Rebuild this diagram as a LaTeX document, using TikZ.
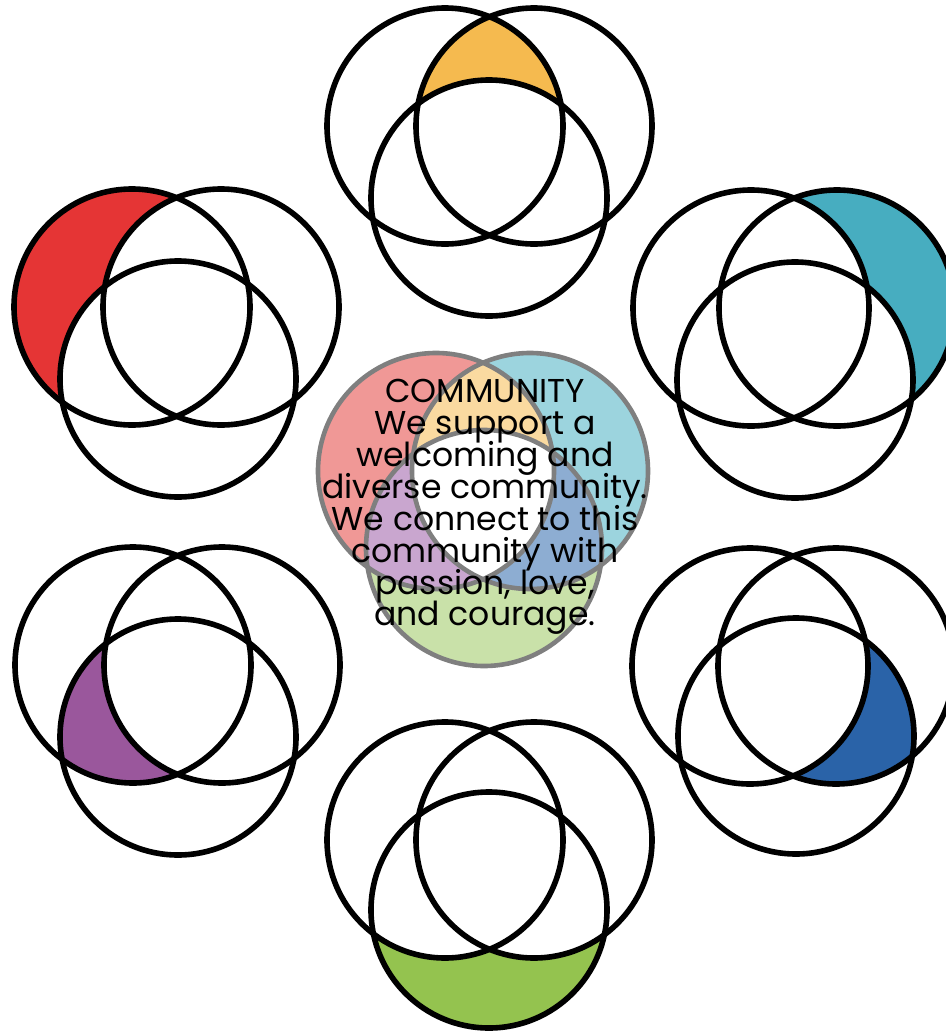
\documentclass[tikz,border=0pt]{standalone}
\usepackage{fontspec}
\setmainfont{Poppins}
\usepackage{tikz}

\definecolor{ochre}{HTML}{F5BA4F}
\definecolor{brick}{HTML}{E53535}
\definecolor{lagoon}{HTML}{47ADC0}
\definecolor{plum}{HTML}{9A579C}
\definecolor{cobalt}{HTML}{2A63A8}
\definecolor{leaf}{HTML}{94C34F}
\definecolor{paleochre}{HTML}{FADAA0}
\definecolor{palebrick}{HTML}{F09896}
\definecolor{palelagoon}{HTML}{9CD4DE}
\definecolor{paleplum}{HTML}{C9A6CF}
\definecolor{palecobalt}{HTML}{8DADD2}
\definecolor{paleleaf}{HTML}{C9E1A9}
\definecolor{ringgray}{HTML}{7F7F7F}

\newcommand{\mottofont}{\fontsize{23.5}{22.7}\selectfont\setlength{\lineskiplimit}{-30pt}}

\begin{document}
\begin{tikzpicture}[
    x=0.025cm, y=-0.025cm,
    ring/.style={line width=0.14cm, black},
    softring/.style={line width=0.115cm, ringgray},
    motto/.style={align=center, font=\mottofont}
]
    \useasboundingbox (0,0) rectangle (946,1033);
    \clip (0,0) rectangle (946,1033);

    % Top group: left and right, not bottom
    \begin{scope}[shift={(445,126)}]
        \begin{scope}
            \clip (0,0) circle (118);
            \fill[ochre] (89,0) circle (118);
        \end{scope}
        \fill[white] (44,72) circle (118);
        \draw[ring] (0,0) circle (118);
        \draw[ring] (89,0) circle (118);
        \draw[ring] (44,72) circle (118);
    \end{scope}

    % Upper left group: left only
    \begin{scope}[shift={(132,307)}]
        \fill[brick] (0,0) circle (118);
        \fill[white] (89,0) circle (118);
        \fill[white] (46,72) circle (118);
        \draw[ring] (0,0) circle (118);
        \draw[ring] (89,0) circle (118);
        \draw[ring] (46,72) circle (118);
    \end{scope}

    % Upper right group: right only
    \begin{scope}[shift={(751,308)}]
        \fill[lagoon] (86,0) circle (118);
        \fill[white] (0,0) circle (118);
        \fill[white] (44,72) circle (118);
        \draw[ring] (0,0) circle (118);
        \draw[ring] (86,0) circle (118);
        \draw[ring] (44,72) circle (118);
    \end{scope}

    % Lower left group: left and bottom, not right
    \begin{scope}[shift={(133,665)}]
        \begin{scope}
            \clip (0,0) circle (118);
            \fill[plum] (45,72) circle (118);
        \end{scope}
        \fill[white] (89,0) circle (118);
        \draw[ring] (0,0) circle (118);
        \draw[ring] (89,0) circle (118);
        \draw[ring] (45,72) circle (118);
    \end{scope}

    % Lower right group: right and bottom, not left
    \begin{scope}[shift={(750,666)}]
        \begin{scope}
            \clip (86,0) circle (118);
            \fill[cobalt] (46,70) circle (118);
        \end{scope}
        \fill[white] (0,0) circle (118);
        \draw[ring] (0,0) circle (118);
        \draw[ring] (86,0) circle (118);
        \draw[ring] (46,70) circle (118);
    \end{scope}

    % Bottom group: bottom only
    \begin{scope}[shift={(445,840)}]
        \fill[leaf] (44,70) circle (118);
        \fill[white] (0,0) circle (118);
        \fill[white] (89,0) circle (118);
        \draw[ring] (0,0) circle (118);
        \draw[ring] (89,0) circle (118);
        \draw[ring] (44,70) circle (118);
    \end{scope}

    % Centre group, all regions in pale colours
    \begin{scope}[shift={(436,471)}]
        \fill[palebrick] (0,0) circle (118);
        \fill[palelagoon] (94,0) circle (118);
        \fill[paleleaf] (48,77) circle (118);
        \begin{scope}
            \clip (0,0) circle (118);
            \fill[paleochre] (94,0) circle (118);
            \fill[paleplum] (48,77) circle (118);
        \end{scope}
        \begin{scope}
            \clip (94,0) circle (118);
            \fill[palecobalt] (48,77) circle (118);
            \clip (0,0) circle (118);
            \fill[white] (48,77) circle (118);
        \end{scope}
        \draw[softring] (0,0) circle (118);
        \draw[softring] (94,0) circle (118);
        \draw[softring] (48,77) circle (118);
    \end{scope}

    \node[motto] (motto) at (485,507) {COMMUNITY\\We support a\\welcoming and\\diverse community.\\We connect to this\\community with\\passion, love,\\and courage.};

\end{tikzpicture}
\end{document}
